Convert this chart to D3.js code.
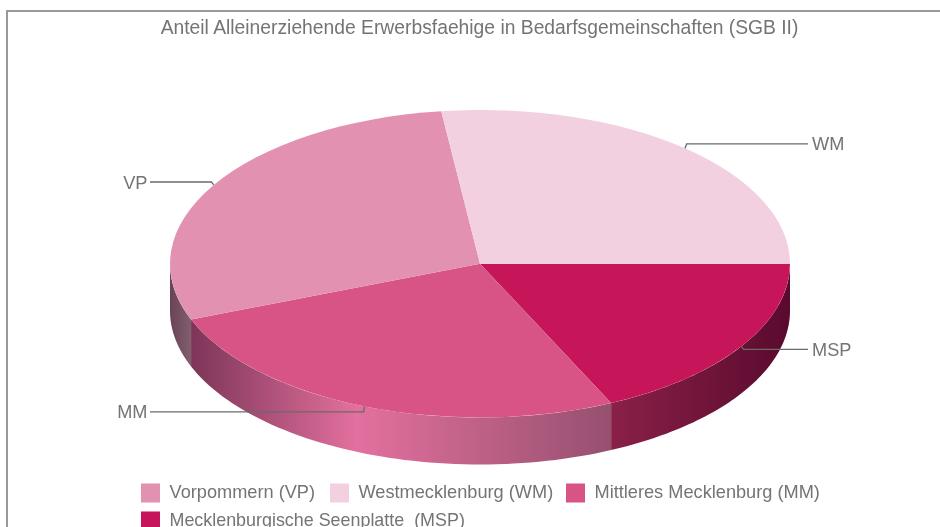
<!DOCTYPE html>
<html><head><meta charset="utf-8">
<script src="https://cdnjs.cloudflare.com/ajax/libs/d3/7.8.5/d3.min.js"></script>
<style>
html,body{margin:0;padding:0;background:#fff;overflow:hidden}
svg{display:block;filter:blur(0.45px)}
text{font-family:"Liberation Sans",Arial,sans-serif;fill:#747474;white-space:pre}
</style></head><body><div id="c"></div>
<script>
const title = "Anteil Alleinerziehende Erwerbsfaehige in Bedarfsgemeinschaften (SGB II)";
const codes = ["MSP","MM","VP","WM"];
const values = [18.05,26.05,28.9,27.0];
const topColors = ["#c61559","#d85486","#e391b1","#f3d0df"];
const sideStops = [["#8a2048","#5a0a2e"],["#7d3558","#e3709e","#96506f"],["#6a4257","#80606f"],["#b08a9a","#b08a9a"]];
const legendNames = ["Vorpommern (VP)","Westmecklenburg (WM)","Mittleres Mecklenburg (MM)","Mecklenburgische Seenplatte  (MSP)"];
const legendColors = ["#e391b1","#f3d0df","#d85486","#c61559"];

const W=940,H=527, cx=480, cy=263.7, rx=310, ry=153.8, depth=47;
const svg=d3.select("#c").append("svg").attr("width",W).attr("height",H);
const defs=svg.append("defs");

svg.append("rect").attr("x",7).attr("y",11).attr("width",W+20).attr("height",H+20)
  .attr("fill","#fff").attr("stroke","#999").attr("stroke-width",2);
svg.append("text").attr("x",479.5).attr("y",34).attr("text-anchor","middle").attr("font-size",19.3).text(title);

const pie=d3.pie().sort(null).startAngle(Math.PI/2).endAngle(Math.PI*2.5);
const arcs=pie(values);
const px=a=>cx+rx*Math.sin(a), py=a=>cy-ry*Math.cos(a);

// sides (front half only)
const line=d3.line();
const frontA=Math.PI/2, frontB=Math.PI*1.5;
arcs.forEach((d,i)=>{
  const a0=Math.max(d.startAngle,frontA), a1=Math.min(d.endAngle,frontB);
  if(a1<=a0) return;
  const ts=d3.range(0,61).map(k=>a0+(a1-a0)*k/60);
  const pts=ts.map(t=>[px(t),py(t)]).concat(ts.slice().reverse().map(t=>[px(t),py(t)+depth]));
  const x0=d3.min(pts,p=>p[0]), x1=d3.max(pts,p=>p[0]);
  const g=defs.append("linearGradient").attr("id","s"+i).attr("gradientUnits","userSpaceOnUse")
    .attr("x1",x0).attr("x2",x1).attr("y1",0).attr("y2",0);
  const st=sideStops[i];
  const off=st.length===3?[0,(357-x0)/(x1-x0),1]:[0,1];
  st.forEach((c,k)=>g.append("stop").attr("offset",off[k]).attr("stop-color",c));
  svg.append("path").attr("d",line(pts)+"Z").attr("fill",`url(#s${i})`);
});

// top face
const arc=d3.arc().innerRadius(0).outerRadius(1);
const face=svg.append("g").attr("transform",`translate(${cx},${cy}) scale(${rx},${ry})`);
face.selectAll("path").data(arcs).join("path").attr("d",arc).attr("fill",(d,i)=>topColors[i]);

// leader lines and labels
arcs.forEach((d,i)=>{
  const m=(d.startAngle+d.endAngle)/2, right=Math.sin(m)>0;
  const p0=[px(m),py(m)];
  const p1=[cx+rx*1.008*Math.sin(m),cy-ry*1.038*Math.cos(m)];
  const xe=right?808:150;
  svg.append("path").attr("d",line([p0,p1,[xe,p1[1]]])).attr("fill","none").attr("stroke","#6a6a6a").attr("stroke-width",1.3);
  svg.append("text").attr("x",right?812:147.5).attr("y",p1[1]+6.5).attr("text-anchor",right?"start":"end")
    .attr("font-size",18.2).text(codes[i]);
});

// legend
const rows=[[141,497],[330,497],[566,497],[141,525]];
legendNames.forEach((n,i)=>{
  const [x,yb]=rows[i];
  svg.append("rect").attr("x",x).attr("y",yb-13.5).attr("width",19).attr("height",19).attr("fill",legendColors[i]);
  const t=svg.append("text").attr("x",x+28.5).attr("y",yb+1).attr("font-size",i===3?17.9:18.2).text(n);
});
</script></body></html>
